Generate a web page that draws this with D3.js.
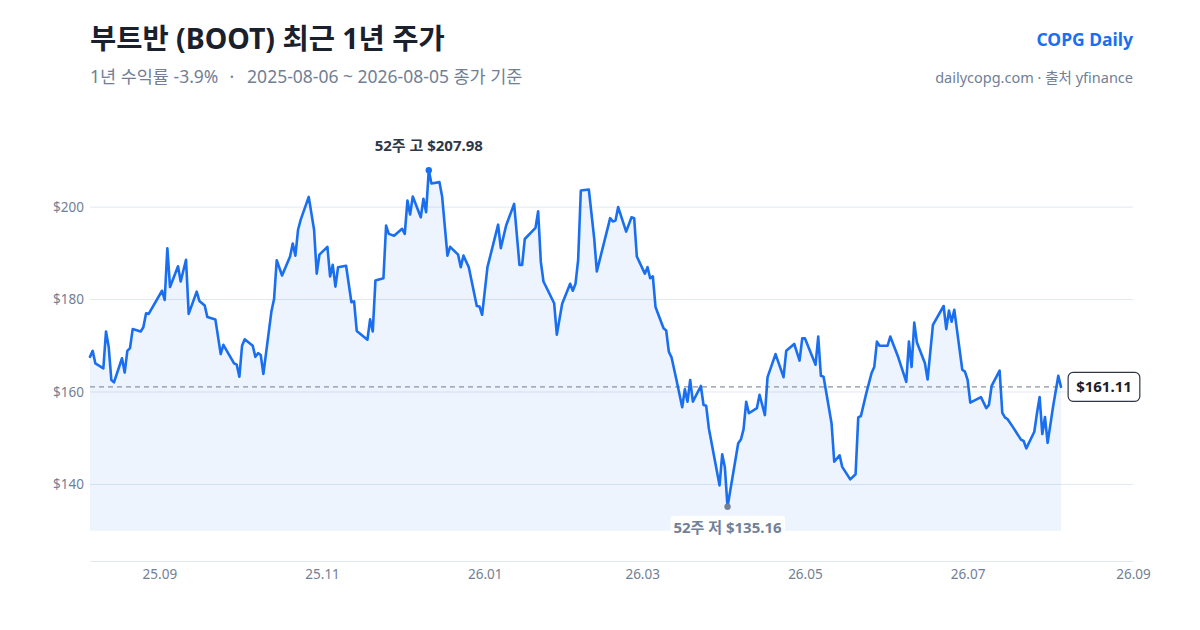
<!DOCTYPE html>
<html>
<head>
<meta charset="utf-8">
<script src="https://cdn.jsdelivr.net/npm/d3@7"></script>
<style>
  html, body { margin: 0; padding: 0; background: #fff; }
  svg { display: block; font-family: "Noto Sans", "Noto Sans CJK KR", sans-serif; }
</style>
</head>
<body>
<div id="chart"></div>
<script>
// closing prices
var dates = [
  "2025-08-06","2025-08-07","2025-08-08","2025-08-11","2025-08-12","2025-08-13","2025-08-14","2025-08-15",
  "2025-08-18","2025-08-19","2025-08-20","2025-08-21","2025-08-22","2025-08-25","2025-08-26","2025-08-27",
  "2025-08-28","2025-09-02","2025-09-03","2025-09-04","2025-09-05","2025-09-08","2025-09-09","2025-09-11",
  "2025-09-12","2025-09-15","2025-09-16","2025-09-18","2025-09-19","2025-09-22","2025-09-24","2025-09-25",
  "2025-09-29","2025-09-30","2025-10-01","2025-10-02","2025-10-03","2025-10-06","2025-10-07","2025-10-08",
  "2025-10-09","2025-10-10","2025-10-13","2025-10-14","2025-10-15","2025-10-17","2025-10-20","2025-10-21",
  "2025-10-22","2025-10-23","2025-10-24","2025-10-27","2025-10-29","2025-10-30","2025-10-31","2025-11-03",
  "2025-11-04","2025-11-05","2025-11-06","2025-11-07","2025-11-10","2025-11-12","2025-11-13","2025-11-14",
  "2025-11-18","2025-11-19","2025-11-20","2025-11-21","2025-11-24","2025-11-25","2025-11-26","2025-11-28",
  "2025-12-01","2025-12-02","2025-12-03","2025-12-04","2025-12-05","2025-12-08","2025-12-09","2025-12-10",
  "2025-12-11","2025-12-12","2025-12-15","2025-12-16","2025-12-18","2025-12-19","2025-12-22","2025-12-23",
  "2025-12-24","2025-12-26","2025-12-29","2025-12-30","2025-12-31","2026-01-02","2026-01-06","2026-01-07",
  "2026-01-09","2026-01-12","2026-01-14","2026-01-15","2026-01-16","2026-01-20","2026-01-21","2026-01-22",
  "2026-01-23","2026-01-27","2026-01-28","2026-01-30","2026-02-02","2026-02-03","2026-02-04","2026-02-05",
  "2026-02-06","2026-02-09","2026-02-11","2026-02-12","2026-02-17","2026-02-18","2026-02-19","2026-02-20",
  "2026-02-23","2026-02-25","2026-02-26","2026-02-27","2026-03-02","2026-03-03","2026-03-04","2026-03-05",
  "2026-03-06","2026-03-09","2026-03-10","2026-03-11","2026-03-12","2026-03-14","2026-03-16","2026-03-17",
  "2026-03-18","2026-03-19","2026-03-20","2026-03-23","2026-03-24","2026-03-25","2026-03-26","2026-03-30",
  "2026-03-31","2026-04-01","2026-04-02","2026-04-06","2026-04-07","2026-04-08","2026-04-09","2026-04-10",
  "2026-04-13","2026-04-14","2026-04-16","2026-04-17","2026-04-20","2026-04-23","2026-04-24","2026-04-27",
  "2026-04-29","2026-04-30","2026-05-01","2026-05-05","2026-05-06","2026-05-07","2026-05-08","2026-05-11",
  "2026-05-12","2026-05-14","2026-05-15","2026-05-18","2026-05-20","2026-05-21","2026-05-22","2026-05-24",
  "2026-05-26","2026-05-27","2026-05-28","2026-05-29","2026-06-01","2026-06-02","2026-06-05","2026-06-08",
  "2026-06-09","2026-06-10","2026-06-11","2026-06-12","2026-06-15","2026-06-16","2026-06-18","2026-06-22",
  "2026-06-23","2026-06-24","2026-06-25","2026-06-26","2026-06-29","2026-06-30","2026-07-01","2026-07-02",
  "2026-07-06","2026-07-07","2026-07-08","2026-07-09","2026-07-10","2026-07-13","2026-07-14","2026-07-15",
  "2026-07-16","2026-07-18","2026-07-21","2026-07-22","2026-07-23","2026-07-26","2026-07-27","2026-07-28",
  "2026-07-29","2026-07-30","2026-07-31","2026-08-02","2026-08-04","2026-08-05"
];
var closes = [
  167.6,168.9,166.2,165.1,173.1,169.8,162.6,162.1,
  167.3,164.2,168.9,169.5,173.6,173.1,174.0,177.0,
  176.9,181.9,179.9,191.1,182.7,187.2,183.9,188.6,
  176.9,181.7,179.7,178.7,176.2,175.7,168.2,170.2,
  166.2,165.9,163.3,170.0,171.4,170.0,167.6,168.4,
  168.0,163.9,177.4,180.1,188.5,185.2,189.3,192.1,
  189.5,195.1,197.3,202.2,195.1,185.6,189.7,191.4,
  185.0,187.5,182.8,187.0,187.3,179.4,179.6,173.2,
  171.3,175.7,173.1,184.1,184.6,196.0,194.2,193.8,
  195.3,194.2,201.4,198.4,202.3,197.8,201.8,198.9,
  207.98,205.1,205.4,202.3,189.5,191.4,189.7,187.0,
  189.5,187.0,178.6,178.5,176.7,187.0,196.2,191.1,
  196.0,200.7,187.5,187.5,193.1,195.5,199.1,188.2,
  183.9,179.2,172.4,179.1,183.4,181.9,183.4,188.6,
  203.6,203.8,193.3,186.1,197.6,196.9,197.1,200.0,
  194.7,197.8,197.6,189.3,185.6,187.0,184.6,185.0,
  178.4,173.8,173.3,168.7,167.5,162.2,156.7,160.6,
  157.9,162.6,157.9,161.3,157.2,157.0,152.1,139.8,
  146.5,143.7,135.16,148.9,149.7,151.9,157.9,155.4,
  156.5,159.4,155.0,163.2,168.2,163.2,168.9,170.4,
  166.8,171.6,171.6,165.9,172.0,163.5,163.3,153.2,
  144.9,146.3,143.8,141.1,142.2,154.5,154.8,159.7,
  164.1,165.4,170.9,170.0,170.0,172.0,167.5,162.2,
  170.9,165.4,175.0,170.7,166.2,162.7,174.5,178.6,
  173.6,177.6,175.2,177.8,164.8,164.4,162.6,157.7,
  158.9,157.7,156.5,157.2,161.3,164.6,155.5,154.5,
  154.1,152.4,149.7,149.4,147.8,151.4,155.4,158.9,
  150.9,154.6,149.0,156.7,163.5,161.11
];
var yTicks = [140, 160, 180, 200];
var xTicks = ["2025-09-01","2025-11-01","2026-01-01","2026-03-01","2026-05-01","2026-07-01","2026-09-01"];

var W = 1200, H = 630;
var margin = {top: 116, right: 67, bottom: 69, left: 90};
var blue = "#1a6ff0", grid = "#e2e8f0", muted = "#718096", ink = "#1a202c";

var parse = d3.timeParse("%Y-%m-%d");
var data = dates.map(function(d, i){ return {date: parse(d), close: closes[i]}; });

var first = data[0], last = data[data.length - 1];
var hi = data.reduce(function(a, b){ return b.close > a.close ? b : a; });
var lo = data.reduce(function(a, b){ return b.close < a.close ? b : a; });
var pad = (hi.close - lo.close) * 0.161;
var ret = (last.close / first.close - 1) * 100;

var x = d3.scaleTime()
  .domain([first.date, parse(xTicks[xTicks.length - 1])])
  .range([margin.left, W - margin.right]);
var y = d3.scaleLinear()
  .domain([lo.close - pad, hi.close + pad])
  .range([H - margin.bottom, margin.top]);
var base = Math.floor(lo.close / 10) * 10; // area floor

var svg = d3.select("#chart").append("svg")
  .attr("width", W).attr("height", H);

// header
svg.append("text").attr("x", 90).attr("y", 49)
  .attr("font-size", 28.5).attr("font-weight", 700).attr("fill", ink)
  .text("부트반 (BOOT) 최근 1년 주가");
var sub = svg.append("text").attr("x", 90).attr("y", 83)
  .attr("font-size", 17.5).attr("fill", muted);
sub.append("tspan").text("1년 수익률 " + ret.toFixed(1) + "%");
sub.append("tspan").attr("dx", 11).text("·");
sub.append("tspan").attr("dx", 13)
  .text(dates[0] + " ~ " + dates[dates.length - 1] + " 종가 기준");
svg.append("text").attr("x", W - margin.right).attr("y", 46)
  .attr("text-anchor", "end").attr("font-size", 17.5).attr("font-weight", 700).attr("fill", blue)
  .text("COPG Daily");
svg.append("text").attr("x", W - margin.right).attr("y", 83)
  .attr("text-anchor", "end").attr("font-size", 14.5).attr("fill", muted)
  .text("dailycopg.com · 출처 yfinance");

// grid + y labels
var gy = svg.append("g");
gy.selectAll("line").data(yTicks).enter().append("line")
  .attr("x1", margin.left).attr("x2", W - margin.right)
  .attr("y1", function(d){ return y(d); }).attr("y2", function(d){ return y(d); })
  .attr("stroke", grid).attr("stroke-width", 1);
gy.selectAll("text").data(yTicks).enter().append("text")
  .attr("x", margin.left - 6).attr("y", function(d){ return y(d); })
  .attr("dy", "0.35em").attr("text-anchor", "end")
  .attr("font-size", 13.5).attr("fill", muted)
  .text(function(d){ return "$" + d; });

// x axis
var xAxis = d3.axisBottom(x)
  .tickValues(xTicks.map(parse))
  .tickSize(0).tickPadding(8)
  .tickFormat(d3.timeFormat("%y.%m"));
var gx = svg.append("g")
  .attr("transform", "translate(0," + (H - margin.bottom) + ")")
  .call(xAxis);
gx.select(".domain").attr("stroke", grid);
gx.selectAll("text").attr("font-size", 13.5).attr("fill", muted)
  .attr("font-family", "\"Noto Sans\", sans-serif");

// area + line
var area = d3.area()
  .x(function(d){ return x(d.date); })
  .y0(y(base))
  .y1(function(d){ return y(d.close); });
var line = d3.line()
  .x(function(d){ return x(d.date); })
  .y(function(d){ return y(d.close); });

svg.append("path").datum(data)
  .attr("d", area).attr("fill", blue).attr("fill-opacity", 0.08);

// last close reference line
svg.append("line")
  .attr("x1", margin.left).attr("x2", x(last.date))
  .attr("y1", y(last.close)).attr("y2", y(last.close))
  .attr("stroke", "#8a94a3").attr("stroke-width", 1.2)
  .attr("stroke-dasharray", "5,4");

svg.append("path").datum(data)
  .attr("d", line).attr("fill", "none")
  .attr("stroke", blue).attr("stroke-width", 2.6)
  .attr("stroke-linejoin", "round").attr("stroke-linecap", "round");

// 52w high
svg.append("circle").attr("cx", x(hi.date)).attr("cy", y(hi.close)).attr("r", 3.2).attr("fill", blue);
svg.append("text").attr("x", x(hi.date)).attr("y", y(hi.close) - 19)
  .attr("text-anchor", "middle").attr("font-size", 15).attr("font-weight", 700).attr("fill", "#2d3748")
  .text("52주 고 $" + hi.close.toFixed(2));

// 52w low
svg.append("circle").attr("cx", x(lo.date)).attr("cy", y(lo.close)).attr("r", 3.2).attr("fill", muted);
var lowLabel = svg.append("g");
var lowText = lowLabel.append("text").attr("x", x(lo.date)).attr("y", y(lo.close) + 26)
  .attr("text-anchor", "middle").attr("font-size", 15).attr("font-weight", 700).attr("fill", muted)
  .text("52주 저 $" + lo.close.toFixed(2));
var lb = lowText.node().getBBox();
lowLabel.insert("rect", "text")
  .attr("x", lb.x - 3).attr("y", lb.y - 1).attr("width", lb.width + 6).attr("height", lb.height + 2)
  .attr("rx", 3).attr("fill", "#fff").attr("fill-opacity", 0.9);

// last price badge
var badge = svg.append("g");
var bText = badge.append("text").attr("x", x(last.date) + 43).attr("y", y(last.close))
  .attr("dy", "0.35em").attr("text-anchor", "middle")
  .attr("font-size", 15).attr("font-weight", 700).attr("fill", ink)
  .text("$" + last.close.toFixed(2));
var bb = bText.node().getBBox();
badge.insert("rect", "text")
  .attr("x", bb.x - 8).attr("y", y(last.close) - 14.5).attr("width", bb.width + 16).attr("height", 29)
  .attr("rx", 5).attr("fill", "#fff").attr("stroke", "#2d3748").attr("stroke-width", 1.2);
</script>
</body>
</html>
